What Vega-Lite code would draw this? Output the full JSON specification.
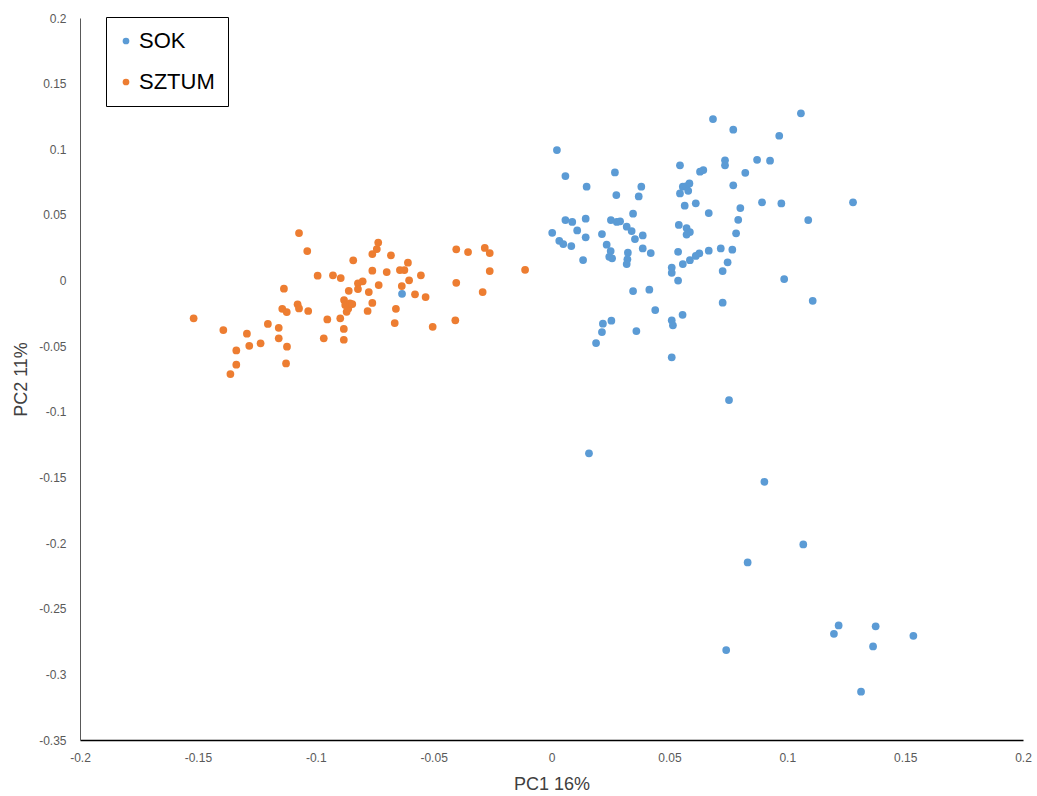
{
  "$schema": "https://vega.github.io/schema/vega-lite/v6.json",
  "width": 943,
  "height": 722,
  "autosize": {"type": "none"},
  "padding": {"left": 80, "top": 18, "right": 14, "bottom": 56},
  "background": "white",
  "config": {"view": {"stroke": null}, "font": "Liberation Sans"},
  "data": {"values": [
    {"pop":"SOK","pc1":0.0023,"pc2":0.0994},
    {"pop":"SOK","pc1":0.0059,"pc2":0.0796},
    {"pop":"SOK","pc1":0.0149,"pc2":0.0715},
    {"pop":"SOK","pc1":0.0269,"pc2":0.0824},
    {"pop":"SOK","pc1":0.0275,"pc2":0.0651},
    {"pop":"SOK","pc1":0.0381,"pc2":0.0715},
    {"pop":"SOK","pc1":0.0370,"pc2":0.0641},
    {"pop":"SOK","pc1":0.0545,"pc2":0.0878},
    {"pop":"SOK","pc1":0.0557,"pc2":0.0715},
    {"pop":"SOK","pc1":0.0573,"pc2":0.0720},
    {"pop":"SOK","pc1":0.0585,"pc2":0.0740},
    {"pop":"SOK","pc1":0.0580,"pc2":0.0684},
    {"pop":"SOK","pc1":0.0545,"pc2":0.0664},
    {"pop":"SOK","pc1":0.0565,"pc2":0.0570},
    {"pop":"SOK","pc1":0.0346,"pc2":0.0509},
    {"pop":"SOK","pc1":0.0059,"pc2":0.0461},
    {"pop":"SOK","pc1":0.0088,"pc2":0.0446},
    {"pop":"SOK","pc1":0.0145,"pc2":0.0471},
    {"pop":"SOK","pc1":0.0109,"pc2":0.0382},
    {"pop":"SOK","pc1":0.0003,"pc2":0.0364},
    {"pop":"SOK","pc1":0.0033,"pc2":0.0303},
    {"pop":"SOK","pc1":0.0050,"pc2":0.0278},
    {"pop":"SOK","pc1":0.0084,"pc2":0.0263},
    {"pop":"SOK","pc1":0.0145,"pc2":0.0329},
    {"pop":"SOK","pc1":0.0214,"pc2":0.0354},
    {"pop":"SOK","pc1":0.0252,"pc2":0.0461},
    {"pop":"SOK","pc1":0.0277,"pc2":0.0446},
    {"pop":"SOK","pc1":0.0291,"pc2":0.0451},
    {"pop":"SOK","pc1":0.0319,"pc2":0.0410},
    {"pop":"SOK","pc1":0.0340,"pc2":0.0377},
    {"pop":"SOK","pc1":0.0354,"pc2":0.0316},
    {"pop":"SOK","pc1":0.0387,"pc2":0.0344},
    {"pop":"SOK","pc1":0.0234,"pc2":0.0273},
    {"pop":"SOK","pc1":0.0251,"pc2":0.0225},
    {"pop":"SOK","pc1":0.0245,"pc2":0.0181},
    {"pop":"SOK","pc1":0.0257,"pc2":0.0169},
    {"pop":"SOK","pc1":0.0324,"pc2":0.0212},
    {"pop":"SOK","pc1":0.0322,"pc2":0.0162},
    {"pop":"SOK","pc1":0.0319,"pc2":0.0126},
    {"pop":"SOK","pc1":0.0387,"pc2":0.0245},
    {"pop":"SOK","pc1":0.0421,"pc2":0.0209},
    {"pop":"SOK","pc1":0.0134,"pc2":0.0156},
    {"pop":"SOK","pc1":0.0540,"pc2":0.0424},
    {"pop":"SOK","pc1":0.0573,"pc2":0.0400},
    {"pop":"SOK","pc1":0.0587,"pc2":0.0369},
    {"pop":"SOK","pc1":0.0573,"pc2":0.0350},
    {"pop":"SOK","pc1":0.0537,"pc2":0.0219},
    {"pop":"SOK","pc1":0.0557,"pc2":0.0126},
    {"pop":"SOK","pc1":0.0510,"pc2":0.0099},
    {"pop":"SOK","pc1":0.0510,"pc2":0.0059},
    {"pop":"SOK","pc1":0.0587,"pc2":0.0155},
    {"pop":"SOK","pc1":0.0537,"pc2":0.0000},
    {"pop":"SOK","pc1":0.0346,"pc2":-0.0080},
    {"pop":"SOK","pc1":0.0415,"pc2":-0.0070},
    {"pop":"SOK","pc1":0.0440,"pc2":-0.0225},
    {"pop":"SOK","pc1":0.0556,"pc2":-0.0261},
    {"pop":"SOK","pc1":0.0510,"pc2":-0.0303},
    {"pop":"SOK","pc1":0.0515,"pc2":-0.0341},
    {"pop":"SOK","pc1":0.0254,"pc2":-0.0306},
    {"pop":"SOK","pc1":0.0218,"pc2":-0.0329},
    {"pop":"SOK","pc1":0.0214,"pc2":-0.0392},
    {"pop":"SOK","pc1":0.0360,"pc2":-0.0385},
    {"pop":"SOK","pc1":0.0189,"pc2":-0.0476},
    {"pop":"SOK","pc1":0.0510,"pc2":-0.0585},
    {"pop":"SOK","pc1":0.0685,"pc2":0.1230},
    {"pop":"SOK","pc1":0.0771,"pc2":0.1149},
    {"pop":"SOK","pc1":0.1058,"pc2":0.1274},
    {"pop":"SOK","pc1":0.0966,"pc2":0.1103},
    {"pop":"SOK","pc1":0.0736,"pc2":0.0916},
    {"pop":"SOK","pc1":0.0736,"pc2":0.0878},
    {"pop":"SOK","pc1":0.0872,"pc2":0.0920},
    {"pop":"SOK","pc1":0.0927,"pc2":0.0913},
    {"pop":"SOK","pc1":0.0822,"pc2":0.0821},
    {"pop":"SOK","pc1":0.0630,"pc2":0.0829},
    {"pop":"SOK","pc1":0.0644,"pc2":0.0842},
    {"pop":"SOK","pc1":0.0771,"pc2":0.0725},
    {"pop":"SOK","pc1":0.0612,"pc2":0.0588},
    {"pop":"SOK","pc1":0.0667,"pc2":0.0514},
    {"pop":"SOK","pc1":0.0801,"pc2":0.0552},
    {"pop":"SOK","pc1":0.0792,"pc2":0.0463},
    {"pop":"SOK","pc1":0.0893,"pc2":0.0596},
    {"pop":"SOK","pc1":0.0975,"pc2":0.0587},
    {"pop":"SOK","pc1":0.1089,"pc2":0.0461},
    {"pop":"SOK","pc1":0.0783,"pc2":0.0360},
    {"pop":"SOK","pc1":0.0612,"pc2":0.0187},
    {"pop":"SOK","pc1":0.0627,"pc2":0.0207},
    {"pop":"SOK","pc1":0.0667,"pc2":0.0227},
    {"pop":"SOK","pc1":0.0718,"pc2":0.0245},
    {"pop":"SOK","pc1":0.0767,"pc2":0.0235},
    {"pop":"SOK","pc1":0.0747,"pc2":0.0139},
    {"pop":"SOK","pc1":0.0726,"pc2":0.0072},
    {"pop":"SOK","pc1":0.0987,"pc2":0.0011},
    {"pop":"SOK","pc1":0.0726,"pc2":-0.0169},
    {"pop":"SOK","pc1":0.1108,"pc2":-0.0154},
    {"pop":"SOK","pc1":0.1279,"pc2":0.0596},
    {"pop":"SOK","pc1":0.0753,"pc2":-0.0910},
    {"pop":"SOK","pc1":0.0159,"pc2":-0.1316},
    {"pop":"SOK","pc1":0.0903,"pc2":-0.1533},
    {"pop":"SOK","pc1":0.1068,"pc2":-0.2010},
    {"pop":"SOK","pc1":0.0832,"pc2":-0.2147},
    {"pop":"SOK","pc1":0.1218,"pc2":-0.2627},
    {"pop":"SOK","pc1":0.1198,"pc2":-0.2691},
    {"pop":"SOK","pc1":0.1375,"pc2":-0.2634},
    {"pop":"SOK","pc1":0.1535,"pc2":-0.2706},
    {"pop":"SOK","pc1":0.1364,"pc2":-0.2787},
    {"pop":"SOK","pc1":0.0741,"pc2":-0.2815},
    {"pop":"SOK","pc1":0.1313,"pc2":-0.3132},
    {"pop":"SOK","pc1":-0.0634,"pc2":-0.0101},
    {"pop":"SZTUM","pc1":-0.1518,"pc2":-0.0288},
    {"pop":"SZTUM","pc1":-0.1392,"pc2":-0.0377},
    {"pop":"SZTUM","pc1":-0.1362,"pc2":-0.0712},
    {"pop":"SZTUM","pc1":-0.1337,"pc2":-0.0641},
    {"pop":"SZTUM","pc1":-0.1337,"pc2":-0.0532},
    {"pop":"SZTUM","pc1":-0.1292,"pc2":-0.0405},
    {"pop":"SZTUM","pc1":-0.1282,"pc2":-0.0497},
    {"pop":"SZTUM","pc1":-0.1234,"pc2":-0.0478},
    {"pop":"SZTUM","pc1":-0.1203,"pc2":-0.0331},
    {"pop":"SZTUM","pc1":-0.1157,"pc2":-0.0360},
    {"pop":"SZTUM","pc1":-0.1157,"pc2":-0.0440},
    {"pop":"SZTUM","pc1":-0.1142,"pc2":-0.0215},
    {"pop":"SZTUM","pc1":-0.1135,"pc2":-0.0062},
    {"pop":"SZTUM","pc1":-0.1123,"pc2":-0.0240},
    {"pop":"SZTUM","pc1":-0.1122,"pc2":-0.0504},
    {"pop":"SZTUM","pc1":-0.1126,"pc2":-0.0631},
    {"pop":"SZTUM","pc1":-0.1077,"pc2":-0.0181},
    {"pop":"SZTUM","pc1":-0.1071,"pc2":-0.0212},
    {"pop":"SZTUM","pc1":-0.1071,"pc2":0.0362},
    {"pop":"SZTUM","pc1":-0.1036,"pc2":0.0225},
    {"pop":"SZTUM","pc1":-0.1032,"pc2":-0.0232},
    {"pop":"SZTUM","pc1":-0.0992,"pc2":0.0037},
    {"pop":"SZTUM","pc1":-0.0966,"pc2":-0.0440},
    {"pop":"SZTUM","pc1":-0.0951,"pc2":-0.0296},
    {"pop":"SZTUM","pc1":-0.0927,"pc2":0.0040},
    {"pop":"SZTUM","pc1":-0.0894,"pc2":0.0019},
    {"pop":"SZTUM","pc1":-0.0896,"pc2":-0.0288},
    {"pop":"SZTUM","pc1":-0.0881,"pc2":-0.0369},
    {"pop":"SZTUM","pc1":-0.0881,"pc2":-0.0451},
    {"pop":"SZTUM","pc1":-0.0880,"pc2":-0.0149},
    {"pop":"SZTUM","pc1":-0.0875,"pc2":-0.0187},
    {"pop":"SZTUM","pc1":-0.0869,"pc2":-0.0238},
    {"pop":"SZTUM","pc1":-0.0862,"pc2":-0.0212},
    {"pop":"SZTUM","pc1":-0.0860,"pc2":-0.0078},
    {"pop":"SZTUM","pc1":-0.0855,"pc2":-0.0174},
    {"pop":"SZTUM","pc1":-0.0845,"pc2":-0.0179},
    {"pop":"SZTUM","pc1":-0.0841,"pc2":0.0154},
    {"pop":"SZTUM","pc1":-0.0821,"pc2":-0.0021},
    {"pop":"SZTUM","pc1":-0.0821,"pc2":-0.0065},
    {"pop":"SZTUM","pc1":-0.0801,"pc2":-0.0006},
    {"pop":"SZTUM","pc1":-0.0780,"pc2":-0.0232},
    {"pop":"SZTUM","pc1":-0.0775,"pc2":-0.0088},
    {"pop":"SZTUM","pc1":-0.0760,"pc2":0.0202},
    {"pop":"SZTUM","pc1":-0.0760,"pc2":0.0075},
    {"pop":"SZTUM","pc1":-0.0760,"pc2":-0.0171},
    {"pop":"SZTUM","pc1":-0.0741,"pc2":0.0240},
    {"pop":"SZTUM","pc1":-0.0735,"pc2":0.0289},
    {"pop":"SZTUM","pc1":-0.0733,"pc2":-0.0034},
    {"pop":"SZTUM","pc1":-0.0699,"pc2":0.0065},
    {"pop":"SZTUM","pc1":-0.0681,"pc2":0.0192},
    {"pop":"SZTUM","pc1":-0.0665,"pc2":-0.0324},
    {"pop":"SZTUM","pc1":-0.0660,"pc2":-0.0215},
    {"pop":"SZTUM","pc1":-0.0643,"pc2":0.0080},
    {"pop":"SZTUM","pc1":-0.0624,"pc2":0.0080},
    {"pop":"SZTUM","pc1":-0.0635,"pc2":-0.0042},
    {"pop":"SZTUM","pc1":-0.0609,"pc2":0.0136},
    {"pop":"SZTUM","pc1":-0.0604,"pc2":0.0002},
    {"pop":"SZTUM","pc1":-0.0579,"pc2":-0.0105},
    {"pop":"SZTUM","pc1":-0.0554,"pc2":0.0040},
    {"pop":"SZTUM","pc1":-0.0534,"pc2":-0.0126},
    {"pop":"SZTUM","pc1":-0.0504,"pc2":-0.0352},
    {"pop":"SZTUM","pc1":-0.0408,"pc2":-0.0303},
    {"pop":"SZTUM","pc1":-0.0404,"pc2":0.0238},
    {"pop":"SZTUM","pc1":-0.0404,"pc2":-0.0017},
    {"pop":"SZTUM","pc1":-0.0354,"pc2":0.0217},
    {"pop":"SZTUM","pc1":-0.0292,"pc2":-0.0088},
    {"pop":"SZTUM","pc1":-0.0283,"pc2":0.0248},
    {"pop":"SZTUM","pc1":-0.0262,"pc2":0.0209},
    {"pop":"SZTUM","pc1":-0.0262,"pc2":0.0072},
    {"pop":"SZTUM","pc1":-0.0112,"pc2":0.0082}
  ]},
  "mark": {"type": "circle", "size": 60, "opacity": 1},
  "encoding": {
    "x": {
      "field": "pc1", "type": "quantitative",
      "scale": {"domain": [-0.2, 0.2], "nice": false, "zero": false},
      "axis": {
        "title": "PC1 16%",
        "values": [-0.2, -0.15, -0.1, -0.05, 0, 0.05, 0.1, 0.15, 0.2],
        "labelExpr": "datum.value == 0 ? '0' : (datum.value < 0 ? '-' : '') + format(abs(datum.value), '~g')",
        "grid": false, "ticks": false, "tickSize": 0,
        "domainColor": "#000000", "domainWidth": 1.5,
        "labelColor": "#595959", "labelFontSize": 12, "labelPadding": 12,
        "labelFlush": false,
        "titleFontSize": 18, "titleFontWeight": "normal", "titleColor": "#404040", "titlePadding": 12
      }
    },
    "y": {
      "field": "pc2", "type": "quantitative",
      "scale": {"domain": [-0.35, 0.2], "nice": false, "zero": false},
      "axis": {
        "title": "PC2 11%",
        "values": [-0.35, -0.3, -0.25, -0.2, -0.15, -0.1, -0.05, 0, 0.05, 0.1, 0.15, 0.2],
        "labelExpr": "datum.value == 0 ? '0' : (datum.value < 0 ? '-' : '') + format(abs(datum.value), '~g')",
        "grid": false, "ticks": false, "tickSize": 0,
        "domainColor": "#595959", "domainWidth": 1,
        "labelColor": "#595959", "labelFontSize": 12, "labelPadding": 14,
        "labelFlush": false,
        "titleFontSize": 18, "titleFontWeight": "normal", "titleColor": "#404040", "titlePadding": 8
      }
    },
    "color": {
      "field": "pop", "type": "nominal",
      "scale": {"domain": ["SOK", "SZTUM"], "range": ["#5B9BD5", "#ED7D31"]},
      "legend": {
        "title": null,
        "orient": "none", "legendX": 26, "legendY": -1,
        "direction": "vertical",
        "fillColor": "white", "strokeColor": "#000000",
        "padding": 13,
        "symbolType": "circle", "symbolSize": 45, "symbolStrokeWidth": 0,
        "symbolOffset": -4,
        "labelFontSize": 22, "labelColor": "#000000", "labelOffset": 2,
        "rowPadding": 19
      }
    }
  }
}
